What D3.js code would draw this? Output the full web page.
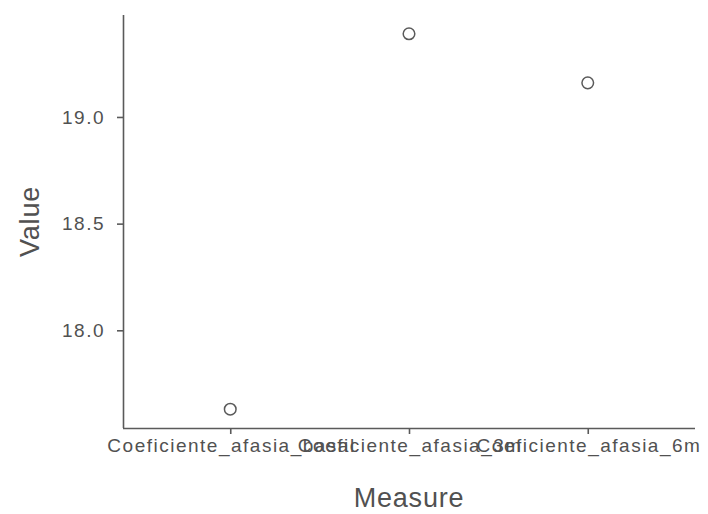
<!DOCTYPE html>
<html>
<head>
<meta charset="utf-8">
<script src="https://cdn.jsdelivr.net/npm/d3@7"></script>
<style>
  body { margin: 0; background: #fff; }
  svg text { font-family: "Liberation Sans", Arial, sans-serif; }
</style>
</head>
<body>
<svg id="chart" width="708" height="514"></svg>
<script>
// data
const measures = ["Coeficiente_afasia_basal", "Coeficiente_afasia_3m", "Coeficiente_afasia_6m"];
const values = [17.63, 19.39, 19.16];
const yTicks = [18.0, 18.5, 19.0];

const svg = d3.select("#chart");
const plotLeft = 123, plotRight = 695, plotTop = 15, plotBottom = 428;

// discrete x with ggplot-like 0.6 expansion
const x = d3.scalePoint()
  .domain(measures)
  .range([plotLeft, plotRight])
  .padding(0.6);

const lo = d3.min(values), hi = d3.max(values);
const pad = (hi - lo) * 0.05;
const y = d3.scaleLinear()
  .domain([lo - pad, hi + pad])
  .range([plotBottom, plotTop]);

const lineColor = "#5a5a5a";
const textColor = "#515151";

// y axis
const yAxisGroup = svg.append("g")
  .attr("transform", `translate(${plotLeft},0)`)
  .call(d3.axisLeft(y).tickValues(yTicks).tickFormat(d3.format(".1f")).tickSize(6).tickPadding(12));
yAxisGroup.select(".domain")
  .attr("d", `M0.5,${plotTop}V${plotBottom}`)
  .attr("stroke", lineColor).attr("stroke-width", 1.6);
yAxisGroup.selectAll(".tick line").attr("stroke", lineColor).attr("stroke-width", 1.6);
yAxisGroup.selectAll(".tick text")
  .attr("fill", textColor)
  .style("font-size", "19px")
  .style("letter-spacing", "1.5px");

// x axis
const xAxisGroup = svg.append("g")
  .attr("transform", `translate(0,${plotBottom})`)
  .call(d3.axisBottom(x).tickSize(6).tickPadding(5));
xAxisGroup.select(".domain")
  .attr("d", `M${plotLeft},0.5H${plotRight}`)
  .attr("stroke", lineColor).attr("stroke-width", 1.6);
xAxisGroup.selectAll(".tick line").attr("stroke", lineColor).attr("stroke-width", 1.6);
xAxisGroup.selectAll(".tick text")
  .attr("fill", textColor)
  .attr("dx", "0.75px")
  .style("font-size", "19px")
  .style("letter-spacing", "1.5px");

// points, open circles
svg.append("g")
  .selectAll("circle")
  .data(measures)
  .join("circle")
  .attr("cx", d => x(d))
  .attr("cy", (d, i) => y(values[i]))
  .attr("r", 5.8)
  .attr("fill", "none")
  .attr("stroke", "#5a5a5a")
  .attr("stroke-width", 1.5);

// axis titles
svg.append("text")
  .attr("x", (plotLeft + plotRight) / 2)
  .attr("y", 507)
  .attr("text-anchor", "middle")
  .attr("fill", textColor)
  .style("font-size", "27px")
  .style("letter-spacing", "0.8px")
  .text("Measure");

svg.append("text")
  .attr("transform", `translate(39,${(plotTop + plotBottom) / 2}) rotate(-90)`)
  .attr("text-anchor", "middle")
  .attr("fill", textColor)
  .style("font-size", "27px")
  .style("letter-spacing", "0.8px")
  .text("Value");
</script>
</body>
</html>
